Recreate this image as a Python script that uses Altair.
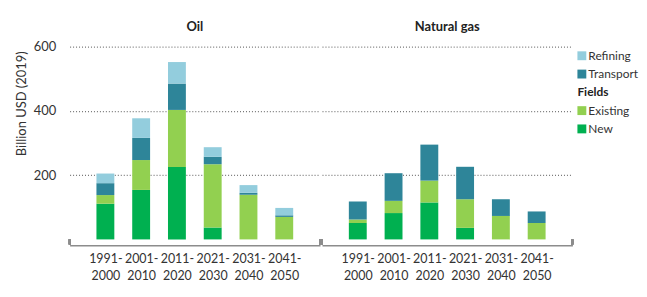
import altair as alt
import pandas as pd

fuels = ["Oil", "Natural gas"]
periods = ["1991-2000", "2001-2010", "2011-2020", "2021-2030", "2031-2040", "2041-2050"]
components = ["New", "Existing", "Transport", "Refining"]
colors = ["#00b050", "#92d050", "#2e8599", "#93cddd"]

oil_new = [111, 154, 225, 37, 0, 0]
oil_existing = [27, 93, 178, 197, 139, 70]
oil_transport = [37, 69, 82, 23, 6, 5]
oil_refining = [30, 61, 67, 30, 24, 23]

gas_new = [51, 82, 115, 36, 0, 0]
gas_existing = [11, 38, 68, 89, 73, 51]
gas_transport = [56, 86, 112, 101, 52, 36]
gas_refining = [0, 0, 0, 0, 0, 0]

legend_items = ["Refining", "Transport", "Fields", "Existing", "New"]
y_ticks = [200, 400, 600]

series = {
    "Oil": [oil_new, oil_existing, oil_transport, oil_refining],
    "Natural gas": [gas_new, gas_existing, gas_transport, gas_refining],
}
rows = []
for fuel in fuels:
    for ci, comp in enumerate(components):
        for pi, p in enumerate(periods):
            rows.append({"fuel": fuel, "period": p, "component": comp,
                         "value": series[fuel][ci][pi], "order": ci})
df = pd.DataFrame(rows)

FONT = "Lato"
color_scale = alt.Scale(domain=components, range=colors)

bars = alt.Chart(df).mark_bar(size=18).encode(
    x=alt.X("period:N", sort=periods, title=None,
            scale=alt.Scale(type="point", padding=1),
            axis=alt.Axis(labelAngle=0, ticks=False, grid=False, domainColor="#8c8c8c",
                          domainWidth=1.5, labelFontSize=12.5, labelColor="#333333",
                          labelFont=FONT, labelPadding=7,
                          labelExpr="[slice(datum.label,0,5), slice(datum.label,5)]",
                          labelLineHeight=17)),
    y=alt.Y("value:Q", stack="zero", scale=alt.Scale(domain=[0, 600]),
            title="Billion USD (2019)",
            axis=alt.Axis(values=y_ticks, domain=False, ticks=False, grid=True,
                          gridDash=[1, 2], gridColor="#555555", gridWidth=1,
                          labelFontSize=13, labelColor="#333333", labelFont=FONT, labelPadding=13,
                          titleFont=FONT, titleFontSize=13, titleFontWeight="normal",
                          titleColor="#333333", titlePadding=5, titleY=57)),
    color=alt.Color("component:N", scale=color_scale, legend=None),
    order=alt.Order("order:Q"),
)

edge_ticks_l = alt.Chart(df).mark_rule(color="#8c8c8c", strokeWidth=1.5).encode(
    x=alt.value(0), y=alt.value(194), y2=alt.value(199))
edge_ticks_r = alt.Chart(df).mark_rule(color="#8c8c8c", strokeWidth=1.5).encode(
    x=alt.value(252), y=alt.value(194), y2=alt.value(199))

cell = alt.layer(bars, edge_ticks_l, edge_ticks_r).properties(width=252, height=194)

faceted = cell.facet(
    column=alt.Column("fuel:N", sort=fuels, title=None,
                      header=alt.Header(labelFontWeight="bold", labelFontSize=13,
                                        labelColor="#222222", labelFont=FONT, labelPadding=13)),
    spacing=0,
)

leg_df = pd.DataFrame({"item": legend_items,
                       "kind": ["swatch", "swatch", "head", "swatch", "swatch"]})
ybase = alt.Y("item:N", sort=legend_items, axis=None, title=None,
              scale=alt.Scale(type="point", padding=0.5))
lbase = alt.Chart(leg_df).encode(y=ybase)
sq = lbase.transform_filter("datum.kind == 'swatch'").mark_square(size=80, opacity=1).encode(
    x=alt.value(4.5), color=alt.Color("item:N", scale=color_scale, legend=None))
txt = lbase.transform_filter("datum.kind == 'swatch'").mark_text(
    align="left", baseline="middle", fontSize=12, font=FONT, color="#333333").encode(
    x=alt.value(11), text="item:N")
head = lbase.transform_filter("datum.kind == 'head'").mark_text(
    align="left", baseline="middle", fontSize=12, font=FONT, fontWeight="bold",
    color="#222222").encode(x=alt.value(0), text="item:N")
legend = alt.layer(sq, txt, head).properties(width=52, height=92)

chart = alt.hconcat(faceted, legend, spacing=4).properties(
    padding={"left": 7, "top": 12, "right": 0, "bottom": 0}
).configure(font=FONT).configure_view(stroke=None, strokeWidth=0)

chart.save("out.html", embed_options={"renderer": "svg", "actions": False})
